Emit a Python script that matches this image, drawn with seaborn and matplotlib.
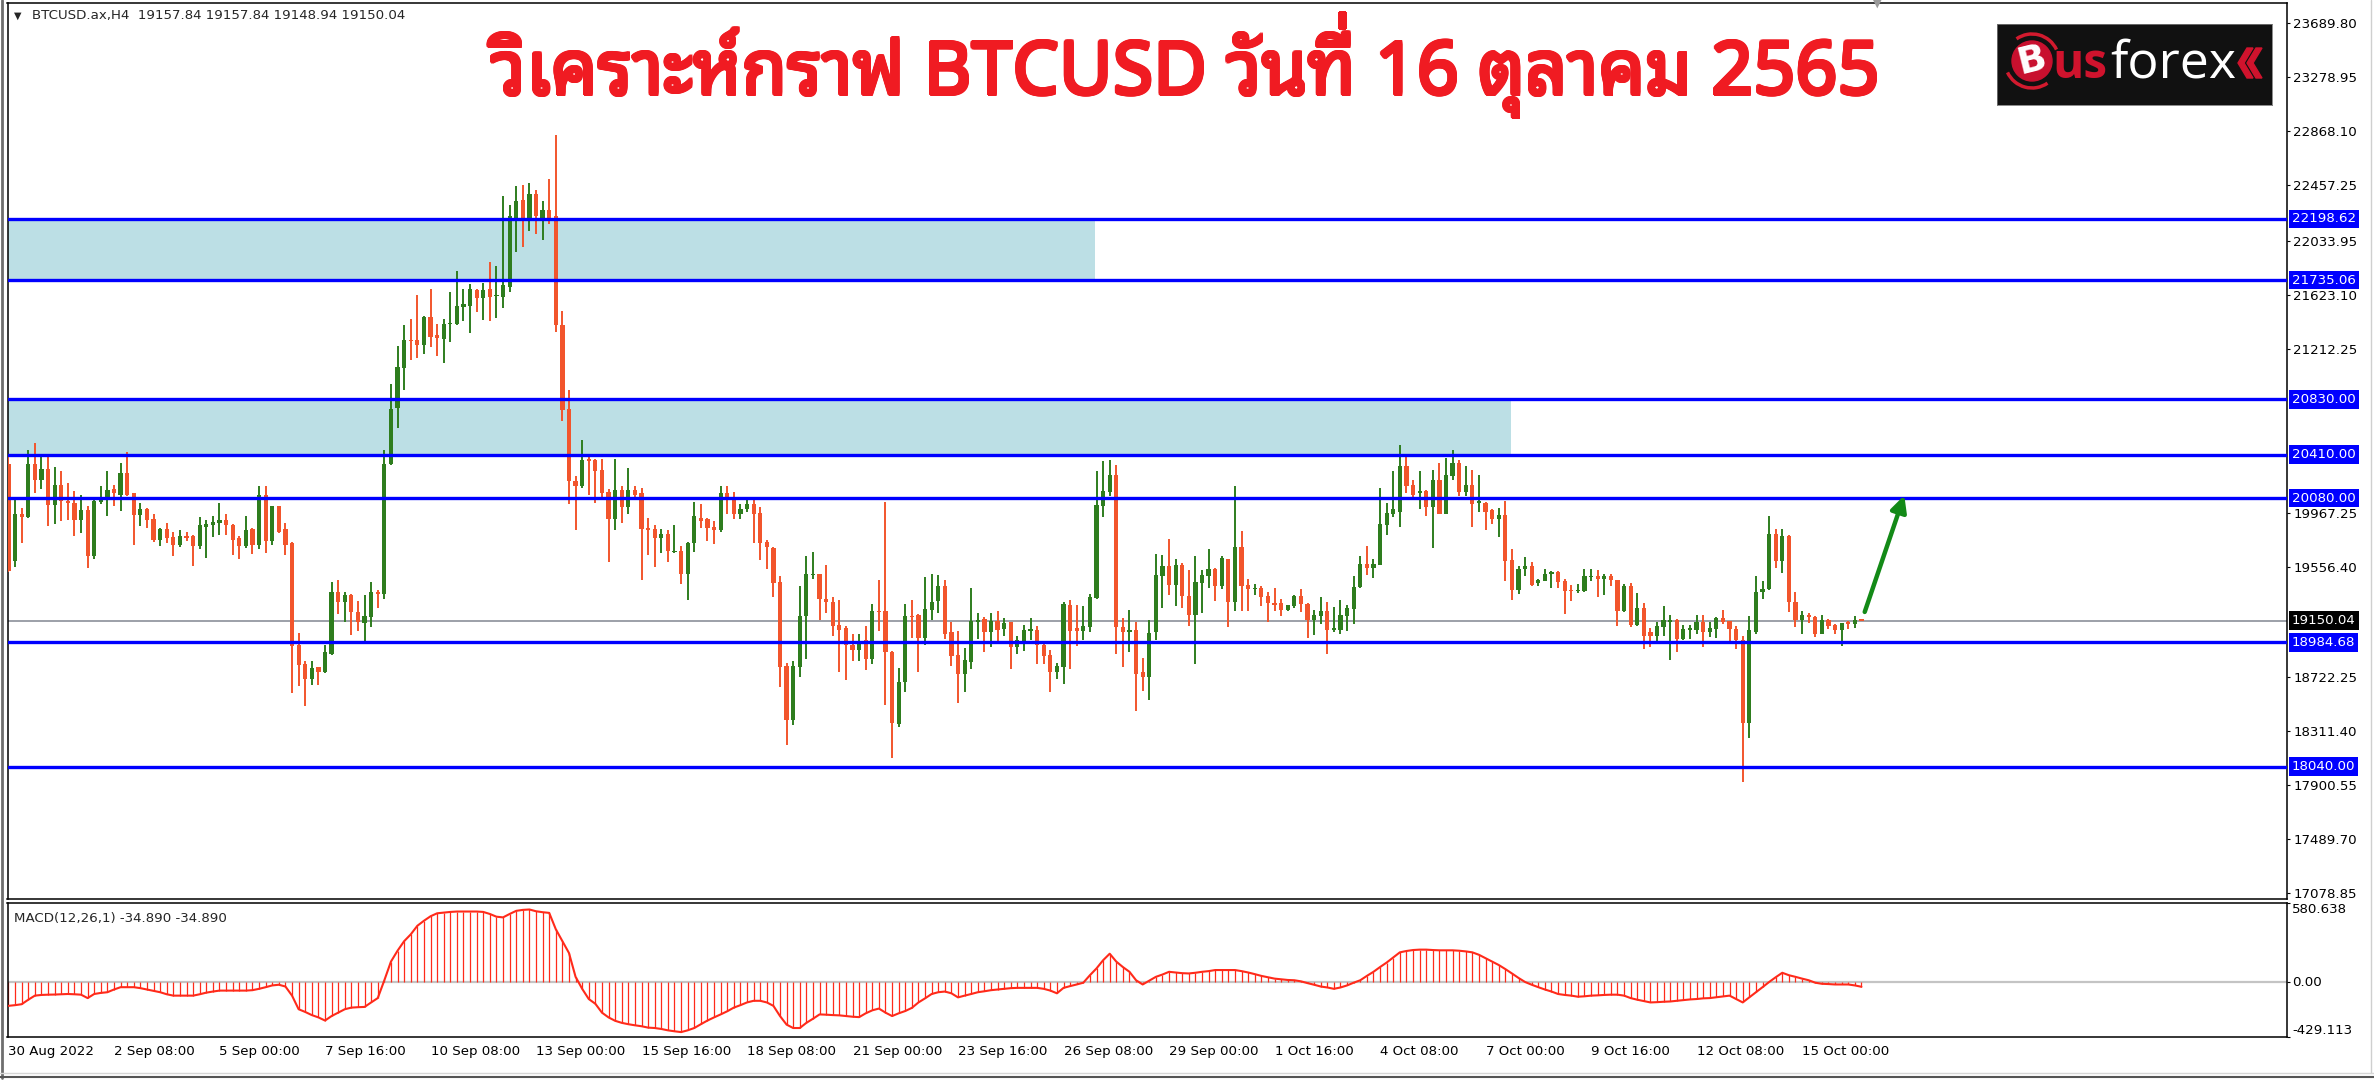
import numpy as np
import matplotlib
matplotlib.use("Agg")
import matplotlib.pyplot as plt
import matplotlib.transforms as mtransforms
import seaborn as sns
from matplotlib import font_manager, ft2font
from matplotlib.patches import Circle, Arc, Polygon

# ---- data (BTCUSD H4, 30 Aug 16:00 -> 16 Oct 08:00) ----
opens = [
    20336, 19603, 19957, 19934, 20336, 20217, 20297, 20025, 20179, 20061,
    20046, 19913, 19987, 19638, 20052, 20067, 20150, 20105, 20268, 20120,
    19951, 19993, 19922, 19765, 19845, 19786, 19726, 19795, 19795, 19715,
    19862, 19874, 19892, 19913, 19874, 19774, 19715, 19845, 19726, 20105,
    19750, 20016, 19845, 19736, 18967, 18819, 18709, 18795, 18760, 18893,
    19366, 19292, 19342, 19218, 19129, 19174, 19366, 19351, 20336, 20761,
    21066, 21282, 21282, 21244, 21451, 21318, 21288, 21400, 21400, 21530,
    21539, 21658, 21600, 21666, 21614, 21608, 21681, 22204, 22344, 22204,
    22385, 22204, 22268, 22219, 21390, 20756, 20212, 20169, 20378, 20366,
    20290, 20125, 19921, 20140, 20009, 20140, 20116, 19855, 19843, 19776,
    19805, 19668, 19680, 19506, 19738, 19930, 19921, 19863, 19834, 20116,
    20076, 19959, 19994, 20038, 19965, 19747, 19703, 19442, 18808, 18395,
    18796, 19186, 19494, 19500, 19311, 19291, 19116, 19093, 18962, 18924,
    19000, 18860, 19224, 19224, 18912, 18366, 18680, 19186, 19195, 19020,
    19232, 19296, 19410, 19061, 18891, 18747, 18833, 19137, 19162, 19061,
    19144, 19086, 19137, 18949, 18985, 19073, 19081, 18967, 18891, 18757,
    18797, 19271, 19093, 19068, 19101, 19321, 20023, 20124, 20258, 19101,
    19061, 19081, 18757, 18721, 19061, 19486, 19562, 19423, 19575, 19334,
    19195, 19435, 19486, 19542, 19410, 19618, 19289, 19709, 19423, 19390,
    19397, 19334, 19284, 19284, 19233, 19258, 19334, 19278, 19152, 19187,
    19220, 19076, 19076, 19187, 19238, 19405, 19582, 19549, 19575, 19878,
    19962, 19972, 20321, 20182, 20118, 20131, 20013, 20220, 19962, 20250,
    20347, 20124, 20182, 20043, 20043, 19992, 19921, 19954, 19607, 19385,
    19542, 19562, 19435, 19448, 19506, 19516, 19448, 19385, 19372, 19372,
    19481, 19491, 19466, 19486, 19456, 19220, 19410, 19119, 19245, 19061,
    19035, 19101, 19137, 19152, 19010, 19076, 19081, 19137, 19061, 19086,
    19169, 19144, 19086, 19005, 18372, 19061, 19365, 19390, 19810, 19600,
    19795, 19288, 19157, 19195, 19177, 19050, 19152, 19119, 19081, 19137,
    19127, 19157.84,
]
highs = [
    20416, 20075, 20002, 20445, 20496, 20416, 20401, 20318, 20283, 20194,
    20135, 20105, 20016, 20075, 20170, 20283, 20179, 20348, 20430, 20120,
    20040, 20002, 19957, 19854, 19892, 19824, 19839, 19824, 19800, 19933,
    19913, 19942, 20046, 19957, 19880, 19790, 19942, 19850, 20170, 20170,
    20022, 20022, 19892, 19744, 19056, 18840, 18840, 18800, 18967, 19440,
    19454, 19366, 19350, 19301, 19342, 19440, 19381, 20445, 20948, 21235,
    21391, 21436, 21619, 21460, 21666, 21400, 21436, 21643, 21805, 21666,
    21707, 21670, 21716, 21870, 21841, 22373, 22306, 22452, 22460, 22472,
    22422, 22335, 22500, 22840, 21501, 20901, 20250, 20518, 20396, 20378,
    20378, 20145, 20378, 20175, 20308, 20169, 20154, 19930, 19878, 19843,
    19834, 19878, 19718, 19745, 20052, 20038, 19925, 19907, 20175, 20169,
    20125, 20038, 20067, 20067, 20009, 19762, 19710, 19485, 18825, 18846,
    19413, 19640, 19669, 19505, 19573, 19325, 19302, 19107, 19049, 19049,
    19107, 19273, 19456, 20052, 18920, 18787, 19273, 19302, 19200, 19477,
    19506, 19499, 19461, 19137, 19068, 18942, 19397, 19207, 19177, 19210,
    19220, 19169, 19140, 19030, 19119, 19169, 19111, 18990, 18929, 18826,
    19288, 19309, 19271, 19258, 19354, 20283, 20359, 20367, 20334, 19169,
    19233, 19137, 18866, 19152, 19658, 19650, 19769, 19618, 19590, 19537,
    19643, 19532, 19694, 19545, 19638, 19620, 20169, 19828, 19465, 19430,
    19410, 19365, 19397, 19314, 19253, 19346, 19390, 19283, 19233, 19329,
    19289, 19253, 19304, 19271, 19486, 19643, 19719, 19618, 20157, 20043,
    20283, 20486, 20397, 20220, 20283, 20144, 20296, 20347, 20385, 20448,
    20367, 20321, 20296, 20258, 20048, 19998, 20005, 20056, 19694, 19562,
    19633, 19592, 19466, 19542, 19523, 19523, 19466, 19423, 19430, 19542,
    19542, 19532, 19506, 19506, 19461, 19430, 19435, 19359, 19283, 19093,
    19137, 19258, 19195, 19162, 19119, 19119, 19195, 19195, 19137, 19177,
    19233, 19150, 19106, 19030, 19182, 19491, 19448, 19947, 19845, 19845,
    19802, 19365, 19220, 19210, 19182, 19195, 19160, 19125, 19132, 19150,
    19182, 19157.84,
]
lows = [
    19520, 19558, 19736, 19928, 20120, 20149, 19868, 19883, 19904, 19913,
    19795, 19815, 19549, 19617, 20031, 19942, 20016, 19978, 20099, 19726,
    19868, 19854, 19744, 19715, 19736, 19638, 19706, 19750, 19567, 19692,
    19626, 19786, 19803, 19803, 19645, 19617, 19697, 19655, 19692, 19663,
    19721, 19815, 19647, 18597, 18650, 18503, 18662, 18662, 18755, 18887,
    19203, 19135, 19041, 19070, 18996, 19100, 19242, 19313, 20327, 20614,
    20903, 21125, 21140, 21176, 21229, 21155, 21105, 21264, 21395, 21421,
    21332, 21492, 21434, 21425, 21448, 21521, 21646, 21949, 21986, 22111,
    22088, 22036, 22160, 21338, 20663, 20038, 19834, 20154, 20105, 20046,
    20087, 19593, 19834, 19892, 19959, 20067, 19456, 19645, 19558, 19660,
    19593, 19660, 19427, 19302, 19668, 19849, 19756, 19733, 19820, 19959,
    19921, 19921, 19971, 19738, 19610, 19543, 19325, 18642, 18206, 18360,
    18720, 18860, 19465, 19157, 19209, 19029, 18758, 18700, 18845, 18845,
    18773, 18817, 19070, 18505, 18104, 18343, 18604, 19020, 18758, 18962,
    19151, 19207, 19010, 18807, 18524, 18605, 18782, 19010, 18909, 18949,
    18992, 19035, 18782, 18898, 18916, 19000, 18823, 18823, 18605, 18706,
    18671, 18782, 18954, 19000, 19061, 19315, 19937, 20094, 18899, 18797,
    18909, 18461, 18613, 18549, 19000, 19245, 19347, 19258, 19245, 19106,
    18823, 19207, 19397, 19296, 19390, 19101, 19220, 19220, 19220, 19347,
    19258, 19137, 19220, 19182, 19225, 19245, 19213, 19018, 19043, 19125,
    18899, 19061, 19050, 19070, 19126, 19397, 19499, 19476, 19575, 19802,
    19937, 19861, 20119, 20063, 19997, 19947, 19701, 19955, 19955, 20220,
    20094, 20094, 19861, 19972, 19835, 19885, 19785, 19448, 19309, 19354,
    19486, 19410, 19410, 19448, 19397, 19397, 19202, 19296, 19359, 19365,
    19448, 19329, 19347, 19410, 19111, 19213, 19101, 19106, 18934, 18949,
    18992, 19030, 18848, 18909, 19000, 19010, 19050, 18949, 19025, 19018,
    19126, 18992, 18934, 17921, 18258, 19050, 19314, 19380, 19549, 19511,
    19213, 19101, 19050, 19130, 19025, 19045, 19086, 19050, 18959, 19086,
    19093, 19148.94,
]
closes = [
    19529, 19957, 19934, 20336, 20217, 20297, 20025, 20179, 20061, 20040,
    19913, 19987, 19638, 20061, 20075, 20141, 20120, 20268, 20105, 19951,
    19996, 19913, 19765, 19845, 19780, 19726, 19795, 19780, 19715, 19874,
    19883, 19898, 19913, 19874, 19765, 19715, 19839, 19726, 20105, 19750,
    20016, 19824, 19726, 18958, 18810, 18709, 18789, 18760, 18908, 19366,
    19292, 19342, 19212, 19135, 19183, 19366, 19351, 20342, 20756, 21075,
    21282, 21270, 21244, 21451, 21303, 21294, 21400, 21412, 21539, 21554,
    21666, 21600, 21658, 21608, 21623, 21695, 22219, 22335, 22204, 22385,
    22219, 22268, 22204, 21390, 20750, 20212, 20175, 20366, 20358, 20285,
    20116, 19921, 20140, 20009, 20140, 20105, 19843, 19834, 19776, 19805,
    19674, 19680, 19506, 19738, 19942, 19907, 19855, 19834, 20116, 20067,
    19959, 20000, 20038, 19959, 19738, 19709, 19436, 18796, 18395, 18802,
    19186, 19500, 19506, 19311, 19291, 19107, 19078, 18962, 18924, 18971,
    18860, 19224, 19215, 18912, 18372, 18686, 19186, 19174, 19020, 19238,
    19291, 19410, 19050, 18883, 18747, 18848, 19144, 19157, 19061, 19144,
    19076, 19132, 18949, 19000, 19081, 19081, 18967, 18883, 18757, 18808,
    19278, 19068, 19068, 19106, 19329, 20030, 20132, 20258, 19101, 19061,
    19081, 18747, 18721, 19056, 19499, 19562, 19423, 19575, 19334, 19195,
    19440, 19499, 19542, 19410, 19625, 19289, 19709, 19410, 19390, 19395,
    19329, 19284, 19271, 19233, 19271, 19334, 19278, 19152, 19195, 19220,
    19076, 19093, 19195, 19245, 19405, 19582, 19549, 19582, 19886, 19967,
    19997, 20321, 20170, 20106, 20131, 20013, 20220, 19962, 20258, 20347,
    20124, 20182, 20038, 20056, 19972, 19921, 19954, 19600, 19385, 19542,
    19562, 19423, 19456, 19506, 19516, 19440, 19372, 19372, 19385, 19491,
    19491, 19466, 19486, 19456, 19220, 19415, 19119, 19245, 19035, 19035,
    19106, 19152, 19152, 19010, 19086, 19093, 19137, 19061, 19093, 19169,
    19137, 19086, 19005, 18372, 19081, 19365, 19390, 19810, 19600, 19795,
    19288, 19157, 19195, 19177, 19050, 19152, 19111, 19081, 19132, 19127,
    19152, 19150.04,
]
macd = [
    -175, -170, -163, -130, -100, -95, -93, -92, -90, -88,
    -90, -93, -118, -88, -80, -75, -55, -38, -38, -38,
    -45, -55, -65, -75, -90, -100, -100, -100, -100, -90,
    -78, -70, -63, -63, -63, -63, -63, -60, -50, -38,
    -25, -20, -33, -100, -200, -220, -243, -260, -283, -250,
    -225, -200, -188, -185, -183, -150, -118, 13, 150, 230,
    300, 350, 413, 450, 483, 505, 510, 515, 518, 518,
    518, 518, 515, 500, 480, 475, 500, 523, 530, 533,
    520, 513, 508, 388, 300, 213, 38, -50, -125, -160,
    -225, -260, -285, -300, -310, -318, -325, -335, -338, -345,
    -355, -362, -368, -355, -338, -310, -283, -260, -238, -215,
    -188, -170, -150, -138, -138, -150, -175, -250, -313, -338,
    -338, -300, -270, -238, -240, -243, -245, -250, -255, -258,
    -230, -208, -195, -225, -250, -230, -213, -190, -150, -120,
    -88, -75, -70, -83, -113, -100, -88, -75, -68, -60,
    -55, -50, -45, -43, -43, -43, -43, -50, -63, -83,
    -43, -30, -18, -5, 50, 100, 160, 208, 150, 110,
    75, 13, -18, 10, 38, 55, 75, 70, 65, 63,
    68, 75, 80, 88, 88, 88, 88, 80, 70, 58,
    45, 35, 25, 20, 15, 13, 5, -8, -20, -33,
    -40, -50, -40, -25, -5, 13, 45, 75, 110, 143,
    180, 218, 228, 235, 238, 238, 235, 233, 233, 233,
    230, 225, 218, 200, 175, 150, 125, 95, 63, 30,
    0, -20, -38, -55, -70, -88, -95, -100, -108, -105,
    -100, -98, -95, -93, -93, -100, -118, -130, -140, -150,
    -148, -145, -143, -138, -133, -128, -125, -120, -118, -112,
    -106, -100, -125, -150, -113, -75, -38, 0, 35, 68,
    50, 38, 25, 13, -5, -13, -15, -18, -18, -18,
    -25, -34.89,
]
levels = [22198.62, 21735.06, 20830.00, 20410.00, 20080.00, 18984.68, 18040.00]
last_price = 19150.04
zones = [(21735.06, 22198.62, 164.8), (20410.00, 20830.00, 227.9)]  # low, high, end bar
price_ticks = [23689.80, 23278.95, 22868.10, 22457.25, 22033.95, 21623.10, 21212.25,
               19967.25, 19556.40, 18722.25, 18311.40, 17900.55, 17489.70, 17078.85]
date_labels = ["30 Aug 2022", "2 Sep 08:00", "5 Sep 00:00", "7 Sep 16:00", "10 Sep 08:00",
               "13 Sep 00:00", "15 Sep 16:00", "18 Sep 08:00", "21 Sep 00:00", "23 Sep 16:00",
               "26 Sep 08:00", "29 Sep 00:00", "1 Oct 16:00", "4 Oct 08:00", "7 Oct 00:00",
               "9 Oct 16:00", "12 Oct 08:00", "15 Oct 00:00"]
date_ticks = [16 * k for k in range(len(date_labels))]
arrow_from = (281.5, 19215)
arrow_to = (287.5, 20100)

title = "วิเคราะห์กราฟ BTCUSD วันที่ 16 ตุลาคม 2565"
header = "BTCUSD.ax,H4  19157.84 19157.84 19148.94 19150.04"
macd_label = "MACD(12,26,1) -34.890 -34.890"

green = '#2e7d1e'
red = '#f2552c'
blue = '#0000ff'
zone_col = '#bcdfe5'
title_red = '#f01b22'
TONE = '\u0e48'


def thai_font():
    names = []
    for f in font_manager.fontManager.ttflist:
        if f.name in names:
            continue
        try:
            cmap = ft2font.FT2Font(f.fname).get_charmap()
        except Exception:
            continue
        if 0x0E27 in cmap and 0x0E01 in cmap:
            names.append(f.name)
    names.sort(key=lambda n: (0 if 'Sans' in n else 1, 0 if 'Noto' in n else 1))
    return names[0] if names else None


sns.set_style('white')
plt.rcParams['font.family'] = ['DejaVu Sans']
th = thai_font()
title_family = ['Noto Sans'] + ([th] if th else []) + ['DejaVu Sans']

W, H = 2374, 1080
fig = plt.figure(figsize=(W / 100, H / 100), dpi=100)
renderer = fig.canvas.get_renderer()


def fx(px):
    return px / W


def fy(py):
    return 1 - py / H


ax = fig.add_axes([fx(7.5), fy(899), (2287 - 7.5) / W, (899 - 3) / H])
axm = fig.add_axes([fx(7.5), fy(1037), (2287 - 7.5) / W, (1037 - 903) / H])

o = np.array(opens, float)
h = np.array(highs, float)
l = np.array(lows, float)
c = np.array(closes, float)
idx = np.arange(len(o))
cols = np.where(c >= o, green, red)

# zones behind candles
for lo, hi, end in zones:
    ax.fill_between([-1, end], lo, hi, color=zone_col, lw=0, zorder=1)

ax.axhline(last_price, color='#8b9099', lw=1.2, zorder=2)

ax.vlines(idx, l, h, colors=cols, lw=1.4, zorder=3)
bottoms = np.minimum(o, c)
heights = np.maximum(np.abs(c - o), 9)
ax.bar(idx, heights, bottom=bottoms, width=0.64, color=cols, lw=0, zorder=4)

for v in levels:
    ax.axhline(v, color=blue, lw=2.4, zorder=5)

ax.annotate('', xy=arrow_to, xytext=arrow_from,
            arrowprops=dict(arrowstyle='-|>', color='#138a17', lw=3.2, mutation_scale=24,
                            shrinkA=0, shrinkB=0), zorder=6)

ax.set_xlim(-0.15, 345.54)
ax.set_ylim(17035.4, 23838.7)
ax.set_xticks([])
ax.yaxis.tick_right()
ax.set_yticks(price_ticks)
ax.set_yticklabels([f'{v:.2f}' for v in price_ticks])
ax.tick_params(axis='y', length=2.4, width=0.8, pad=2.0, labelsize=9.6, colors='black')
for s in ax.spines.values():
    s.set_color('black')
    s.set_linewidth(1.1)

trans = mtransforms.blended_transform_factory(ax.transAxes, ax.transData)
for v in levels:
    ax.text(1.0022, v, f'{v:.2f}', transform=trans, color='white', fontsize=9.6,
            ha='left', va='center', zorder=10, clip_on=False,
            bbox=dict(boxstyle='square,pad=0.22', fc=blue, ec='none'))
ax.text(1.0022, last_price, f'{last_price:.2f}', transform=trans, color='white', fontsize=9.6,
        ha='left', va='center', zorder=10, clip_on=False,
        bbox=dict(boxstyle='square,pad=0.22', fc='black', ec='none'))

# MACD panel
m = np.array(macd, float)
axm.axhline(0, color='#c4c4c4', lw=1.6, zorder=1)
axm.vlines(idx, 0, m, colors='#ff2a1a', lw=0.9, zorder=2)
sns.lineplot(x=idx, y=m, ax=axm, color='#ff2a1a', lw=1.5, zorder=3)
axm.set_xlim(-0.15, 345.54)
axm.set_ylim(-404, 580.638)
axm.yaxis.tick_right()
axm.set_yticks([580.638, 0, -404])
axm.set_yticklabels(['580.638', '0.00', '-429.113'])
for lab, va in zip(axm.get_yticklabels(), ['top', 'center', 'bottom']):
    lab.set_va(va)
axm.tick_params(axis='y', length=2.4, width=0.8, pad=1.5, labelsize=9.6, colors='black')
axm.set_xticks(date_ticks)
axm.set_xticklabels(date_labels, ha='left')
axm.tick_params(axis='x', length=3.5, width=0.8, pad=2.5, labelsize=9.6, colors='black')
axm.set_ylabel('')
for s in axm.spines.values():
    s.set_color('black')
    s.set_linewidth(1.1)
axm.text(0.003, 0.885, macd_label, transform=axm.transAxes, fontsize=9.6, va='center', ha='left')

# header
fig.text(fx(14), fy(16), '▼', fontsize=7, va='center', ha='left')
fig.text(fx(32), fy(16), header, fontsize=9.6, va='center', ha='left')
fig.text(fx(1877), fy(4), '▼', fontsize=8, color='#9a9a9a', va='center', ha='center')


def heavy_text(x, y, s, r=1.8, **kw):
    # fake a heavy weight by stamping the text a few times around a small circle
    for a in np.linspace(0, 2 * np.pi, 12, endpoint=False):
        tr = mtransforms.offset_copy(fig.transFigure, fig=fig, x=r * np.cos(a),
                                     y=r * np.sin(a), units='dots')
        fig.text(x, y, s, transform=tr, **kw)
    return fig.text(x, y, s, **kw)


# title: drawn without the tone mark, which is then set above the vowel by hand
# (matplotlib does not stack Thai marks)
tkw = dict(fontsize=53, color=title_red, family=title_family, va='baseline')
base_y = fy(94)
plain = title.replace(TONE, '')
t_title = heavy_text(fx(1185.5), base_y, plain, ha='center', **tkw)
if th and TONE in title:
    bb = t_title.get_window_extent(renderer)
    cut = title.index(TONE)
    prefix = title[:cut]
    tmp = fig.text(bb.x0 / W, base_y, prefix, ha='left', **tkw)
    pb = tmp.get_window_extent(renderer)
    tmp.remove()
    tf = ft2font.FT2Font(font_manager.findfont(font_manager.FontProperties(family=th)))
    tf.set_size(53, fig.dpi)
    vow = tf.load_char(ord(prefix[-1])).bbox
    mark = tf.load_char(ord(TONE)).bbox
    lift = max(0.0, (vow[3] - mark[1]) / 64 + 4)
    pen = pb.x1 - vow[2] / 64
    mx = pen + (mark[0] + mark[2]) / 128
    heavy_text(mx / W, base_y + lift / H, TONE, ha='center', **tkw)

# logo
axl = fig.add_axes([fx(1997), fy(105), 275 / W, 81 / H])
axl.set_xlim(0, 275)
axl.set_ylim(0, 81)
axl.set_facecolor('#111111')
axl.set_xticks([])
axl.set_yticks([])
for s in axl.spines.values():
    s.set_color('#777777')
    s.set_linewidth(0.6)
axl.add_patch(Circle((35, 44), 20, color='#c8102e', zorder=2))
axl.add_patch(Arc((35, 44), 54, 54, theta1=25, theta2=125, color='#d21a2e', lw=2.5, zorder=2))
axl.add_patch(Arc((35, 44), 54, 54, theta1=205, theta2=305, color='#d21a2e', lw=2.5, zorder=2))
axl.text(35, 44, 'B', color='white', fontsize=27, fontweight='bold', ha='center', va='center',
         rotation=14, zorder=3)


def fit_text(x, word, width_px, **kw):
    t = axl.text(x, 27, word, fontsize=40, ha='left', va='baseline',
                 family=['Open Sans', 'DejaVu Sans'], zorder=3, **kw)
    w = t.get_window_extent(renderer).width
    t.set_fontsize(40 * width_px / w)
    return t


fit_text(55, 'us', 55, color='#d0132d', fontweight='bold')
fit_text(113, 'forex', 126, color='white')
for tip in (241, 250):
    axl.add_patch(Polygon([(tip, 42), (tip + 9, 57), (tip + 15, 57), (tip + 6, 42),
                           (tip + 15, 27), (tip + 9, 27)], closed=True, color='#d0132d', zorder=4))

# window frame bits
fig.add_artist(plt.Line2D([fx(1.5), fx(1.5)], [fy(0), fy(1078)], color='#6e6e6e', lw=2))
fig.add_artist(plt.Line2D([fx(2371), fx(2371)], [fy(0), fy(1073)], color='#cfcfcf', lw=1))
fig.add_artist(plt.Line2D([0, fx(2374)], [fy(1073), fy(1073)], color='#d6d6d6', lw=1))
fig.add_artist(plt.Line2D([0, fx(2374)], [fy(1077), fy(1077)], color='#555555', lw=1.5))

fig.savefig('out.png', dpi=100)
